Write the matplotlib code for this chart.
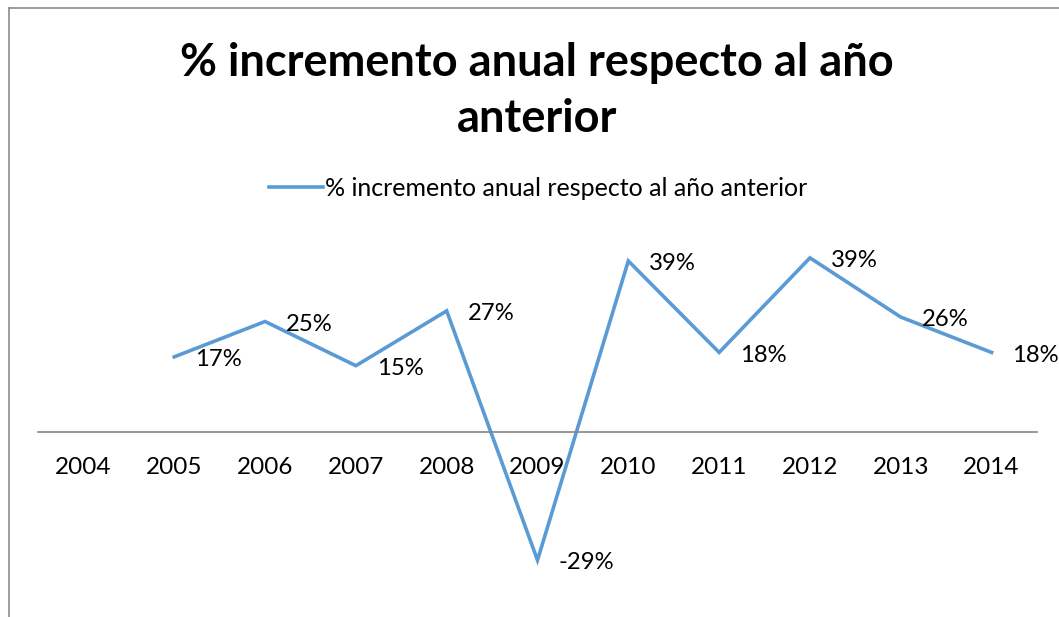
import numpy as np
import matplotlib.pyplot as plt
from matplotlib.lines import Line2D

#Data

years = ['2004', '2005', '2006', '2007', '2008', '2009', '2010', '2011', '2012', '2013', '2014']
incremento = [None, 0.17, 0.25, 0.15, 0.274, -0.29, 0.387, 0.18, 0.394, 0.26, 0.18]
serie = '% incremento anual respecto al año anterior'
titulo = '% incremento anual respecto al año\nanterior'

#Plot

W, H = 1059, 617
plt.rcParams['font.family'] = ['Lato', 'DejaVu Sans']

fig = plt.figure(figsize=(W / 100, H / 100), dpi=100)

# axes placed in pixels: zero line at y=432, 442 px per unit
ymin, ymax = -0.4, 0.5
px = 442
top = 432 - ymax * px
bottom = 432 - ymin * px
ax = fig.add_axes([38 / W, 1 - bottom / H, 999 / W, (bottom - top) / H])

x = np.arange(len(years))
y = np.array([np.nan if v is None else v for v in incremento])
ax.plot(x, y, color='#5B9BD5', lw=2.6, solid_joinstyle='miter', label=serie)

for xi, v in zip(x, incremento):
    if v is None:
        continue
    ax.annotate('{:.0f}%'.format(v * 100), (xi, v), xytext=(15, -2),
                textcoords='offset points', ha='left', va='center',
                fontsize=17.2, color='black')

ax.set_xlim(-0.5, len(years) - 0.5)
ax.set_ylim(ymin, ymax)
ax.spines['bottom'].set_position(('data', 0))
ax.set_xticks(x)
ax.set_xticklabels(years)
ax.tick_params(axis='x', length=0, pad=18, labelsize=17.5)
ax.set_yticks([])
for s in ['top', 'right', 'left']:
    ax.spines[s].set_visible(False)
ax.spines['bottom'].set_color('#868686')
ax.spines['bottom'].set_linewidth(1.2)
ax.patch.set_alpha(0)

fig.text(537 / W, 1 - 91 / H, titulo, ha='center', va='center',
         fontsize=32.5, fontweight='bold', linespacing=1.42)

fig.legend(loc='center', bbox_to_anchor=(538 / W, 1 - 188 / H), frameon=False,
           fontsize=18, handlelength=2.15, handletextpad=0.1)

# chart border (only left and top edges visible in the crop)
fig.add_artist(Line2D([8.5 / W, 8.5 / W], [0, 1 - 7.5 / H], color='#8c8c8c', lw=1.2))
fig.add_artist(Line2D([8.5 / W, 1], [1 - 7.5 / H, 1 - 7.5 / H], color='#8c8c8c', lw=1.2))

fig.savefig('out.png', dpi=100)
